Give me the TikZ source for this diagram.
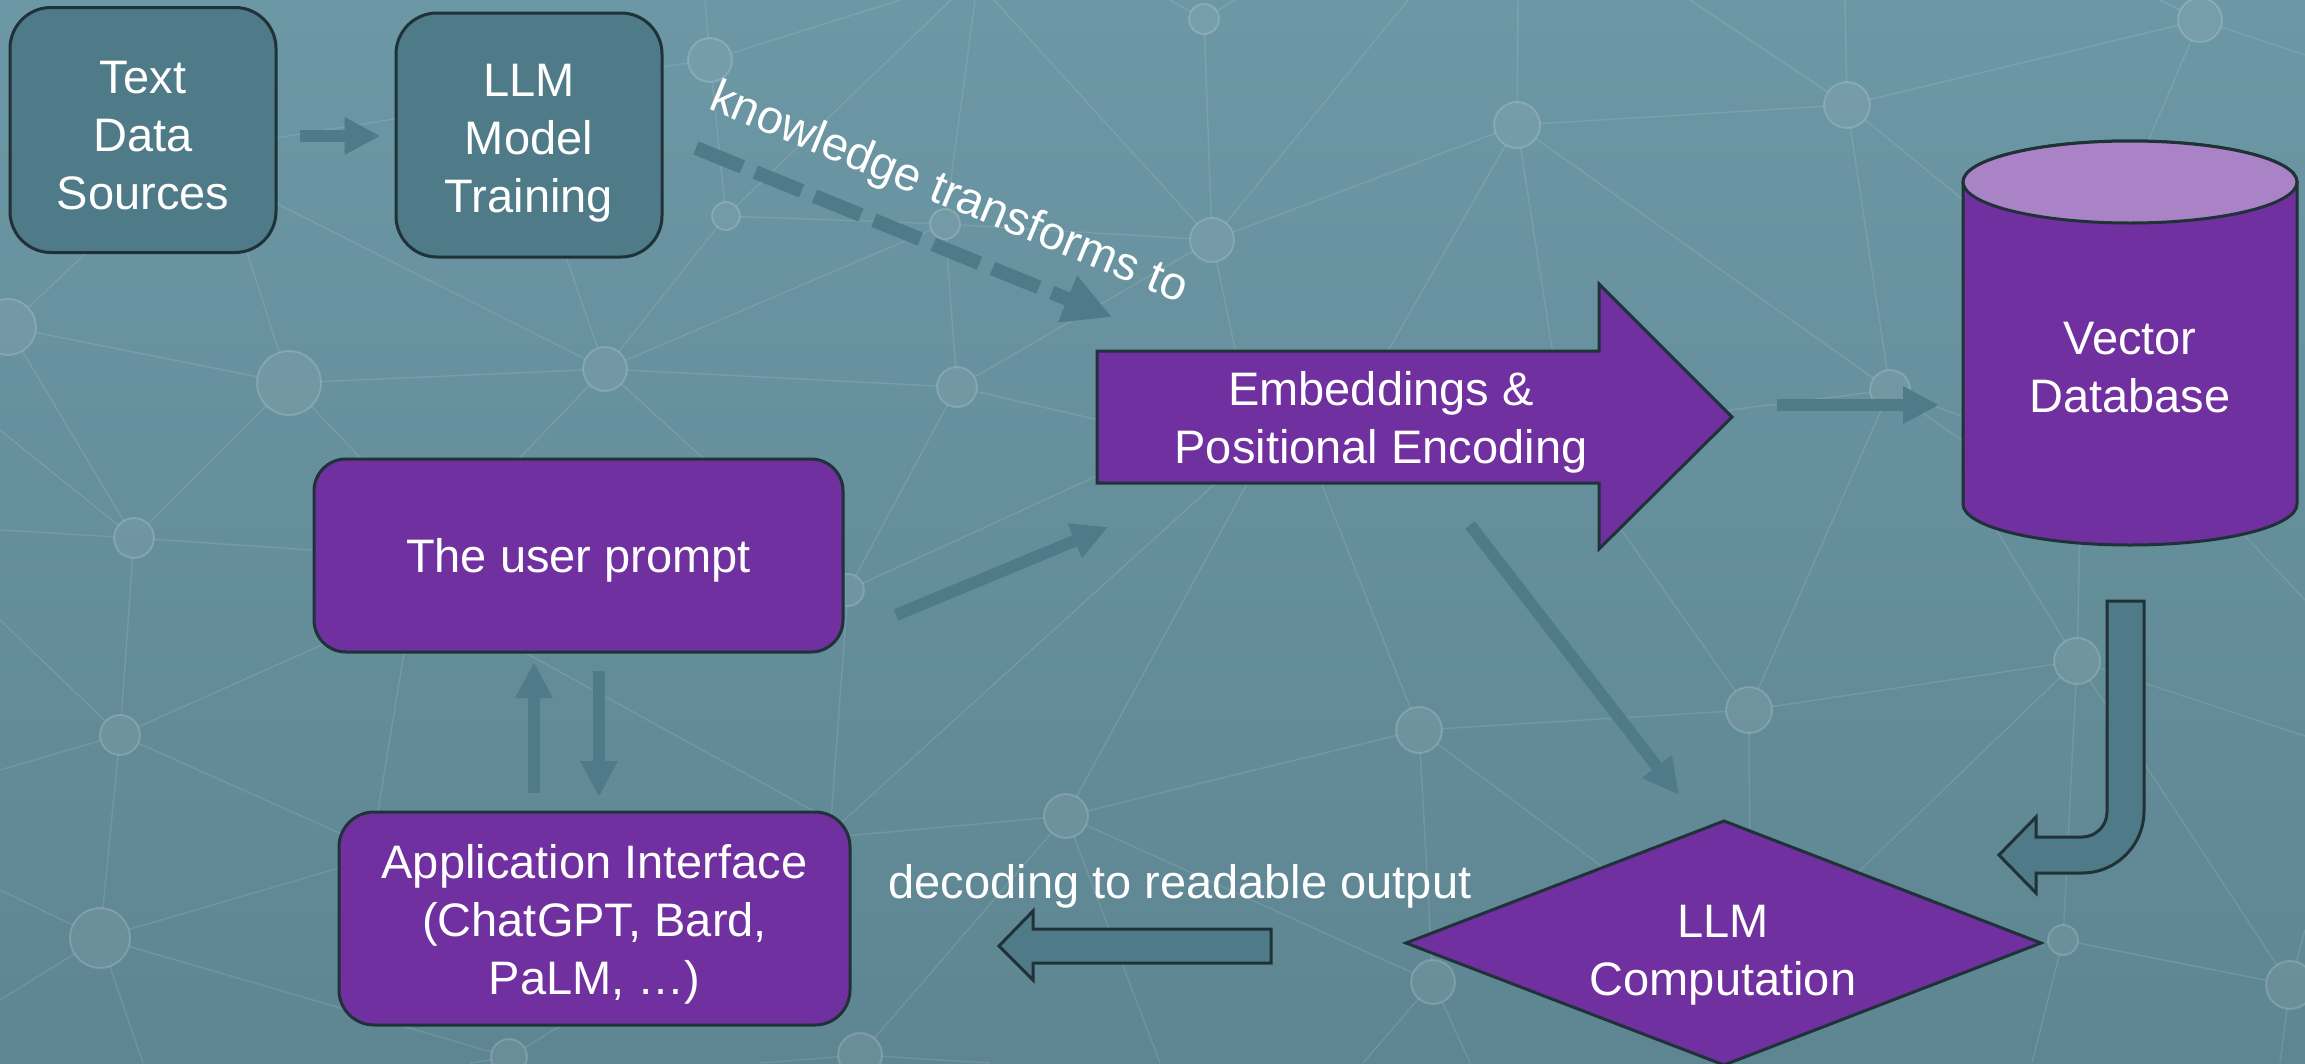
\documentclass[tikz,border=0pt]{standalone}
\usepackage{fontspec}
\setmainfont{Liberation Sans}
\usetikzlibrary{arrows.meta,calc}

\definecolor{bgtop}{HTML}{6C97A4}
\definecolor{bgmid}{HTML}{90B4BD}
\definecolor{bgbot}{HTML}{5E8692}
\definecolor{tealfill}{HTML}{4F7A87}
\definecolor{edgec}{HTML}{1F3237}
\definecolor{purp}{HTML}{7030A0}
\definecolor{lilac}{HTML}{A983C5}

\begin{document}
\begin{tikzpicture}[x=1pt,y=-1pt,
  lbl/.style={text=white,font=\fontsize{47}{58}\selectfont,align=center,inner sep=0pt},
  tealbox/.style={draw=edgec,fill=tealfill,line width=3pt},
  purpbox/.style={draw=edgec,fill=purp,line width=3pt},
  outlined/.style={draw=edgec,line width=3pt,line join=miter},
  conn/.style={draw=tealfill,line width=12pt,-{Triangle[width=35pt,length=36pt]}},
  net/.style={draw=white,draw opacity=0.11,line width=1.4pt},
  backdrop/.style={top color=bgtop,middle color=bgmid,bottom color=bgbot},
  dot/.style={fill=white,fill opacity=0.07,draw=white,draw opacity=0.16,line width=2pt},
]
\useasboundingbox (0,0) rectangle (2305,1063);

% ---------- background with a faint network ----------
\shade[backdrop] (0,0) rectangle (2305,1063);
\begin{scope}
\clip (0,0) rectangle (2305,1063);
\coordinate (n1) at (710,60);   \coordinate (n2) at (726,216);
\coordinate (n3) at (605,369);  \coordinate (n4) at (289,383);
\coordinate (n5) at (8,327);    \coordinate (n6) at (134,538);
\coordinate (n7) at (120,735);  \coordinate (n8) at (100,938);
\coordinate (n9) at (509,1057); \coordinate (n10) at (860,1055);
\coordinate (n11) at (1066,816);\coordinate (n12) at (957,387);
\coordinate (n13) at (1212,240);\coordinate (n14) at (1204,19);
\coordinate (n15) at (1517,125);\coordinate (n16) at (1847,105);
\coordinate (n17) at (2200,20); \coordinate (n18) at (1419,730);
\coordinate (n19) at (1749,710);\coordinate (n20) at (2077,661);
\coordinate (n21) at (2063,940);\coordinate (n22) at (2290,985);
\coordinate (n23) at (1433,982);\coordinate (n24) at (1890,390);
\coordinate (n25) at (945,224); \coordinate (n26) at (848,590);

\draw[net] (n1)--(705,0) (n1)--(900,0) (n1)--(n2) (n1)--(640,70);
\draw[net] (n2)--(951,0) (n2)--(n25) (n2)--(n3);
\draw[net] (n25)--(975,0) (n25)--(n12) (n25)--(n13) (n25)--(n3);
\draw[net] (n13)--(994,0) (n13)--(n14) (n13)--(1408,0) (n13)--(n15) (n13)--(n12) (n13)--(1250,420);
\draw[net] (n14)--(1170,0) (n14)--(1235,0);
\draw[net] (n15)--(1518,0) (n15)--(n16) (n15)--(n24) (n24)--(1990,460) (n15)--(1360,400) (n15)--(1560,400);
\draw[net] (n16)--(1690,0) (n16)--(1845,0) (n16)--(n17) (n16)--(n24) (n16)--(2000,230);
\draw[net] (n17)--(2305,55) (n17)--(2140,160) (n17)--(2160,0);
\draw[net] (n24)--(n19) (n24)--(1650,420) (n24)--(2000,430);
\draw[net] (n12)--(n3) (n12)--(n26) (n12)--(1120,425);
\draw[net] (n3)--(n4) (n3)--(n26) (n3)--(560,240) (n3)--(250,190) (n3)--(460,520);
\draw[net] (n4)--(n5) (n4)--(n6) (n4)--(240,230) (n4)--(420,520);
\draw[net] (n5)--(110,230) (n5)--(n6);
\draw[net] (n6)--(0,530) (n6)--(n7) (n6)--(400,556) (n6)--(0,430);
\draw[net] (n7)--(0,620) (n7)--(0,770) (n7)--(400,610) (n7)--(400,860) (n7)--(n8);
\draw[net] (n8)--(0,890) (n8)--(400,850) (n8)--(n9) (n8)--(0,1000) (n8)--(143,1063);
\draw[net] (n9)--(620,990) (n9)--(470,1063);
\draw[net] (n26)--(1110,470) (n26)--(828,860);
\draw[net] (n11)--(1260,460) (n11)--(800,840) (n11)--(n10) (n11)--(1160,1063) (n11)--(n23) (n11)--(n18);
\draw[net] (800,860)--(1230,470) (440,606)--(830,820) (375,830)--(406,640) (200,150)--(450,110);
\draw[net] (n18)--(1312,460) (n18)--(n19) (n18)--(n23) (n18)--(1620,880);
\draw[net] (n19)--(n20) (n19)--(1750,880) (n19)--(1600,500);
\draw[net] (n20)--(2080,530) (n20)--(1990,520) (n20)--(2305,736) (n20)--(1850,880) (n20)--(n21) (n20)--(n22) (2230,520)--(2305,600);
\draw[net] (n21)--(2030,945) (n21)--(n22) (n21)--(2032,1063);
\draw[net] (n22)--(2305,930) (n22)--(2280,1063);
\draw[net] (n23)--(1363,1063) (n23)--(1470,1063);
\draw[net] (n10)--(990,1063) (n10)--(760,1063);

% each network dot repaints the backdrop inside itself, then a light tint
\foreach \p/\r in {n1/22,n2/14,n3/22,n4/32,n5/28,n6/20,n7/20,n8/30,n9/18,n10/22,
  n11/22,n12/20,n13/22,n14/15,n15/23,n16/23,n17/22,n18/23,n19/23,n20/23,
  n21/15,n22/24,n23/22,n24/20,n25/15,n26/16}{
  \begin{scope}
    \clip (\p) circle[radius=\r pt];
    \shade[backdrop] (0,0) rectangle (2305,1063);
  \end{scope}
  \draw[dot] (\p) circle[radius=\r pt];
}
\end{scope}

% ---------- training path ----------
\node[tealbox,rounded corners=41pt,minimum width=266pt,minimum height=245pt] (tds) at (143,130) {};
\node[lbl] (tdsT) at ($(tds)+(0,6)$) {Text\\Data\\Sources};
\node[tealbox,rounded corners=41pt,minimum width=266pt,minimum height=244pt] (llm) at (529,135) {};
\node[lbl] (llmT) at ($(llm)+(0,8)$) {LLM\\Model\\Training};

% ---------- embeddings block arrow ----------
\path[outlined,fill=purp] (1097,351) -- (1599,351) -- (1599,284) -- (1732,417)
  -- (1599,549) -- (1599,483) -- (1097,483) -- cycle;
\node[lbl] (emb) at (1381,422) {Embeddings \&\\Positional Encoding};

% ---------- vector database cylinder ----------
\path[outlined,fill=purp] (1963,182) -- (1963,504)
  arc[start angle=180,end angle=360,x radius=167pt,y radius=41pt]
  -- (2297,182) arc[start angle=0,end angle=180,x radius=167pt,y radius=41pt] -- cycle;
\path[outlined,fill=lilac] (2130,182) ellipse[x radius=167pt,y radius=41pt];
\node[lbl] (vdb) at (2130,368) {Vector\\Database};

% ---------- user side ----------
\node[purpbox,rounded corners=32pt,minimum width=529pt,minimum height=193pt] (prompt) at (578.5,555.5) {};
\node[lbl] (promptT) at ($(prompt)+(0,5)$) {The user prompt};
\node[purpbox,rounded corners=35pt,minimum width=511pt,minimum height=213pt] (app) at (594.5,918.5) {};
\node[lbl] (appT) at ($(app)+(0,6)$) {Application Interface\\(ChatGPT, Bard,\\PaLM, …)};

% ---------- computation diamond ----------
\path[outlined,fill=purp] (1724,821) -- (2041,943) -- (1724,1065) -- (1406,943) -- cycle;
\node[lbl] (comp) at (1723,955) {LLM\\Computation};

% ---------- block arrows ----------
\path[outlined,fill=tealfill] (2107,601) -- (2144,601) -- (2144,811)
  arc[start angle=0,end angle=-90,radius=62pt] -- (2036,873) -- (2036,893) -- (1999,855)
  -- (2036,817) -- (2036,837) -- (2082,837)
  arc[start angle=-90,end angle=0,radius=25pt] -- cycle;
\path[outlined,fill=tealfill] (999,946) -- (1033,911) -- (1033,929) -- (1271,929)
  -- (1271,963) -- (1033,963) -- (1033,980) -- cycle;

% ---------- connectors ----------
\coordinate (a1s) at ($(tds.east)+(22,6)$);   \coordinate (a1e) at ($(llm.west)+(-14,1)$);
\coordinate (d1s) at (696,148);               \coordinate (d1e) at (1112,317);
\coordinate (a2s) at (896,615);               \coordinate (a2e) at (1108,527);
\coordinate (a3s) at (1777,405);              \coordinate (a3e) at (1939,405);
\coordinate (a4s) at (1470,525);              \coordinate (a4e) at (1679,795);
\coordinate (a5s) at (534,793);               \coordinate (a5e) at (534,662);
\coordinate (a6s) at (599,671);               \coordinate (a6e) at (599,797);

\draw[conn] (a1s) -- (a1e);
\draw[draw=tealfill,line width=14pt,dash pattern=on 50pt off 14pt,
      -{Triangle[width=47pt,length=48pt]}] (d1s) -- (d1e);
\draw[conn] (a2s) -- (a2e);
\draw[conn] (a3s) -- (a3e);
\draw[conn] (a4s) -- (a4e);
\draw[conn] (a5s) -- (a5e);
\draw[conn] (a6s) -- (a6e);

% ---------- edge labels ----------
\node[lbl,anchor=base,rotate=-22.3] (klab) at (944,206) {knowledge transforms to};
\node[lbl,anchor=base] (dlab) at (1180,898) {decoding to readable output};
\end{tikzpicture}
\end{document}
